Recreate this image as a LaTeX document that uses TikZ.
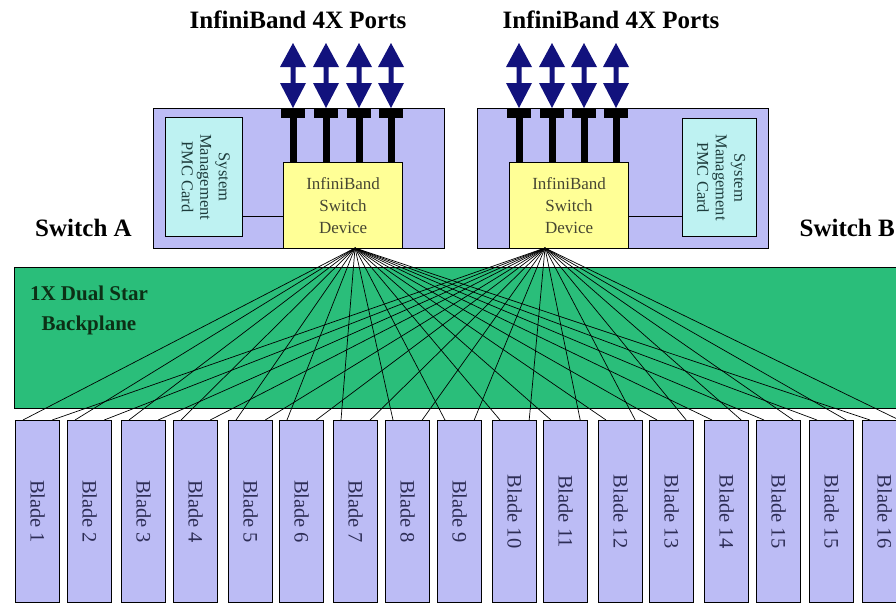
\documentclass[tikz,border=0pt]{standalone}
\usepackage{fontspec}
\setmainfont{Liberation Serif}
\usepackage{graphicx}
\usetikzlibrary{calc}

\definecolor{boardfill}{RGB}{188,188,245}
\definecolor{cardfill}{RGB}{190,242,242}
\definecolor{asicfill}{RGB}{255,255,150}
\definecolor{planefill}{RGB}{42,190,122}
\definecolor{portblue}{RGB}{18,18,125}
\definecolor{planetext}{RGB}{12,48,22}
\definecolor{bladetext}{RGB}{45,45,85}
\definecolor{cardtext}{RGB}{30,60,60}
\definecolor{asictext}{RGB}{70,70,50}

\begin{document}
\begin{tikzpicture}[x=1pt,y=-1pt,
  box/.style={draw=black, line width=1.2pt, inner sep=0pt, anchor=north west},
  board/.style={box, fill=boardfill},
  card/.style={box, fill=cardfill, text=cardtext,
    font=\fontsize{16.5}{18.5}\selectfont},
  asic/.style={box, fill=asicfill, text=asictext, align=center,
    font=\fontsize{17}{22}\selectfont},
  blade/.style={box, fill=boardfill, text=bladetext,
    minimum width=44, minimum height=182,
    font=\fontsize{20.5}{22}\selectfont},
  heading/.style={font=\bfseries\fontsize{25}{28}\selectfont, inner sep=0pt},
  planelabel/.style={font=\bfseries\fontsize{21}{30}\selectfont,
    text=planetext, align=center, inner sep=0pt},
  wire/.style={draw=black, line width=0.7pt},
  link/.style={draw=black, line width=0.8pt},
]
\useasboundingbox (0,0) rectangle (896,605);

% backplane
\node[box, fill=planefill, minimum width=895, minimum height=141] (bp) at (14,267) {};
\node[planelabel] (bplabel) at (89,310) {1X Dual Star\\Backplane};

% switch boards
\node[board, minimum width=291, minimum height=140] (swA) at (153,108) {};
\node[board, minimum width=291, minimum height=140] (swB) at (477,108) {};

\node[card, minimum width=77, minimum height=119] (cardA) at (165,117)
  {\rotatebox{-90}{\begin{tabular}{@{}c@{}}System\\Management\\PMC Card\end{tabular}}};
\node[card, minimum width=74, minimum height=118] (cardB) at (682,118)
  {\rotatebox{-90}{\begin{tabular}{@{}c@{}}System\\Management\\PMC Card\end{tabular}}};

\node[asic, minimum width=119, minimum height=86] (devA) at (283,162)
  {InfiniBand\\Switch\\Device};
\node[asic, minimum width=119, minimum height=86] (devB) at (509,162)
  {InfiniBand\\Switch\\Device};

\draw[link] (cardA.east |- 0,216) -- (devA.west |- 0,216);
\draw[link] (devB.east |- 0,216) -- (cardB.west |- 0,216);

% 4X ports: link bars and double arrows
\foreach \px in {293,326,359,391,519,552,584,616}{
  \fill[black] (\px-12,108) rectangle (\px+12,118);
  \fill[black] (\px-3.5,118) rectangle (\px+3.5,162);
  \fill[portblue] (\px,43) -- (\px+13,67) -- (\px+2.5,67) -- (\px+2.5,83)
    -- (\px+13,83) -- (\px,108) -- (\px-13,83) -- (\px-2.5,83)
    -- (\px-2.5,67) -- (\px-13,67) -- cycle;
}

\node[heading] (portsA) at (298,20) {InfiniBand 4X Ports};
\node[heading] (portsB) at (611,20) {InfiniBand 4X Ports};
\node[heading, anchor=west] (labA) at (35,228) {Switch A};
\node[heading, anchor=east] (labB) at (895,228) {Switch B};

% star hubs
\coordinate (hubA) at (355,248);
\coordinate (hubB) at (545,248);

% blades and their two links
\foreach \bx/\lab [count=\i] in {15/1,67/2,121/3,173/4,228/5,279/6,333/7,
    385/8,437/9,492/10,543/11,598/12,649/13,704/14,756/15,809/15,862/16}{
  \node[blade] (b\i) at (\bx,420) {\rotatebox{-90}{Blade \lab}};
  \draw[wire] (hubA) -- ($(b\i.north west)+(8,0)$);
  \draw[wire] (hubB) -- ($(b\i.north east)+(-8,0)$);
}
\end{tikzpicture}
\end{document}
